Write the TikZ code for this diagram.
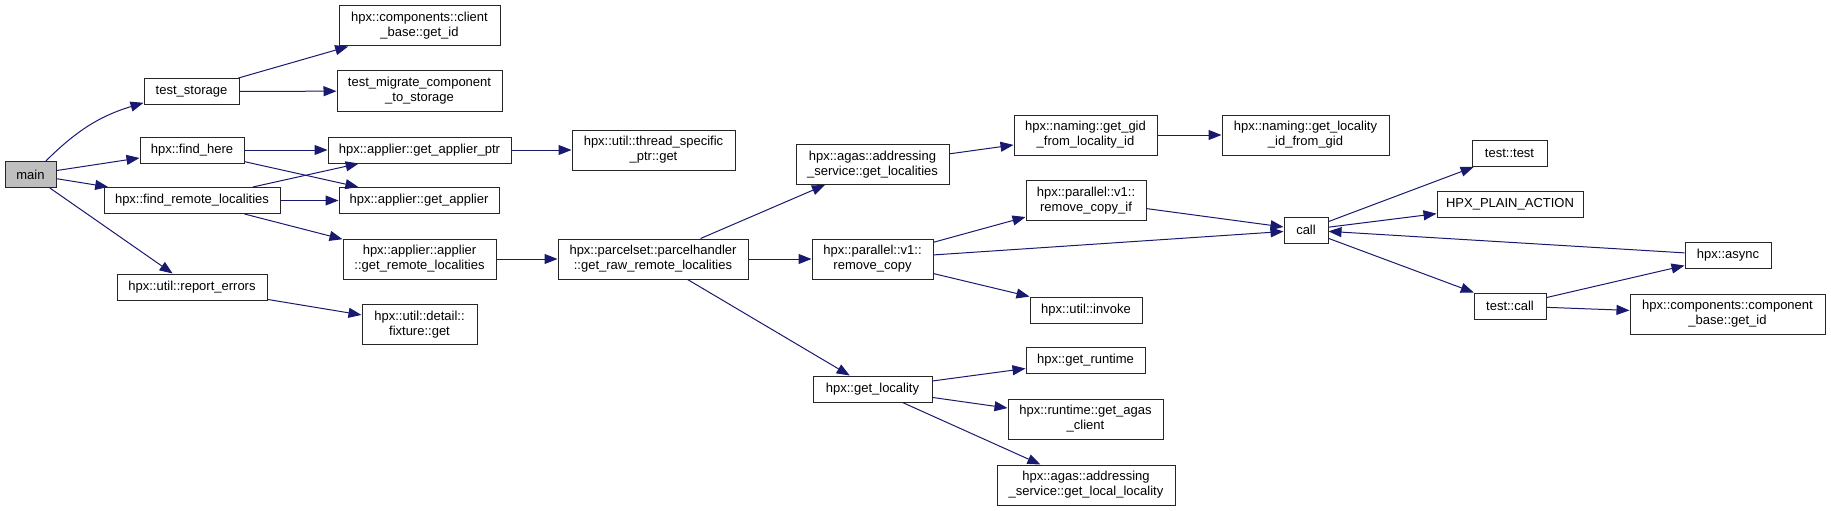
\documentclass[tikz,border=0pt]{standalone}
\usepackage{fontspec}
\setmainfont{Liberation Sans}
\usetikzlibrary{arrows.meta}
\definecolor{callblue}{HTML}{191970}
\definecolor{maingray}{HTML}{BFBFBF}

\begin{document}
\begin{tikzpicture}[x=1pt, y=1pt,
    fnbox/.style={draw=black!85, line width=1pt, inner sep=1pt, minimum height=26pt,
        font=\fontsize{13}{15}\selectfont},
    fnbox2/.style={fnbox, align=center, minimum height=40pt},
    callarrow/.style={draw=callblue, line width=1pt, -{Triangle[length=13pt,width=10pt]}}]
    \useasboundingbox (0,0) rectangle (1831,-511);

    % Caller and first level
    \node[fnbox, fill=maingray, minimum width=51pt] (main) at (30.5,-174.5) {main};
    \node[fnbox, minimum width=95pt] (teststorage) at (191.5,-91.5) {test\_storage};
    \node[fnbox, minimum width=104pt] (findhere) at (192,-150) {hpx::find\_here};
    \node[fnbox, minimum width=176pt] (findremote) at (192,-200.5) {hpx::find\_remote\_localities};
    \node[fnbox, minimum width=150pt] (reporterrors) at (192,-287) {hpx::util::report\_errors};

    % Second level
    \node[fnbox2, minimum width=161pt] (clientgetid) at (419.5,-26) {hpx::components::client\\\_base::get\_id};
    \node[fnbox2, minimum width=165pt] (testmigrate) at (419.5,-91) {test\_migrate\_component\\\_to\_storage};
    \node[fnbox, minimum width=183pt] (getapplierptr) at (419.5,-150) {hpx::applier::get\_applier\_ptr};
    \node[fnbox, minimum width=160pt] (getapplier) at (419,-200.5) {hpx::applier::get\_applier};
    \node[fnbox2, minimum width=153pt] (applierremote) at (419.5,-259) {hpx::applier::applier\\::get\_remote\_localities};
    \node[fnbox2, minimum width=115pt] (fixtureget) at (419.5,-324.5) {hpx::util::detail::\\fixture::get};

    % Third level
    \node[fnbox2, minimum width=163pt] (threadptrget) at (653.5,-150) {hpx::util::thread\_specific\\\_ptr::get};
    \node[fnbox2, minimum width=190pt] (parcelhandler) at (653,-259) {hpx::parcelset::parcelhandler\\::get\_raw\_remote\_localities};

    % Fourth level
    \node[fnbox2, minimum width=153pt] (agaslocalities) at (872.5,-164.5) {hpx::agas::addressing\\\_service::get\_localities};
    \node[fnbox2, minimum width=121pt] (removecopy) at (872.5,-259) {hpx::parallel::v1::\\remove\_copy};
    \node[fnbox, minimum width=119pt] (getlocality) at (872.5,-389) {hpx::get\_locality};

    % Fifth level
    \node[fnbox2, minimum width=143pt] (getgid) at (1085.5,-135) {hpx::naming::get\_gid\\\_from\_locality\_id};
    \node[fnbox2, minimum width=120pt] (removecopyif) at (1086,-200.5) {hpx::parallel::v1::\\remove\_copy\_if};
    \node[fnbox, minimum width=112pt] (invoke) at (1086,-310) {hpx::util::invoke};
    \node[fnbox, minimum width=119pt] (getruntime) at (1085.5,-360.5) {hpx::get\_runtime};
    \node[fnbox2, minimum width=155pt] (agasclient) at (1085.5,-419) {hpx::runtime::get\_agas\\\_client};
    \node[fnbox2, minimum width=178pt] (locallocality) at (1086,-485) {hpx::agas::addressing\\\_service::get\_local\_locality};

    % Right part
    \node[fnbox2, minimum width=167pt] (localityfromgid) at (1305.5,-135) {hpx::naming::get\_locality\\\_id\_from\_gid};
    \node[fnbox, minimum width=44pt] (callfn) at (1306,-230) {call};
    \node[fnbox, minimum width=75pt] (testtest) at (1509.5,-153.5) {test::test};
    \node[fnbox, minimum width=146pt] (plainaction) at (1510,-204.5) {HPX\_PLAIN\_ACTION};
    \node[fnbox, minimum width=72pt] (testcall) at (1510,-306) {test::call};
    \node[fnbox, minimum width=86pt] (hpxasync) at (1728,-255.5) {hpx::async};
    \node[fnbox2, minimum width=195pt] (componentgetid) at (1727.5,-314) {hpx::components::component\\\_base::get\_id};

    % Calls
    \draw[callarrow] (main) to[bend left=14] (teststorage);
    \draw[callarrow] (main) -- (findhere);
    \draw[callarrow] (main) -- (findremote);
    \draw[callarrow] (main) -- (reporterrors);
    \draw[callarrow] (teststorage) -- (clientgetid);
    \draw[callarrow] (teststorage) -- (testmigrate);
    \draw[callarrow] (findhere) -- (getapplierptr);
    \draw[callarrow] (findhere) -- (getapplier);
    \draw[callarrow] (findremote) -- (getapplierptr);
    \draw[callarrow] (findremote) -- (getapplier);
    \draw[callarrow] (findremote) -- (applierremote);
    \draw[callarrow] (reporterrors) -- (fixtureget);
    \draw[callarrow] (getapplierptr) -- (threadptrget);
    \draw[callarrow] (applierremote) -- (parcelhandler);
    \draw[callarrow] (parcelhandler) -- (agaslocalities);
    \draw[callarrow] (parcelhandler) -- (removecopy);
    \draw[callarrow] (parcelhandler) -- (getlocality);
    \draw[callarrow] (agaslocalities) -- (getgid);
    \draw[callarrow] (getgid) -- (localityfromgid);
    \draw[callarrow] (removecopy) -- (removecopyif);
    \draw[callarrow] (removecopy) -- (callfn);
    \draw[callarrow] (removecopy) -- (invoke);
    \draw[callarrow] (removecopyif) -- (callfn);
    \draw[callarrow] (getlocality) -- (getruntime);
    \draw[callarrow] (getlocality) -- (agasclient);
    \draw[callarrow] (getlocality) -- (locallocality);
    \draw[callarrow] (callfn) -- (testtest);
    \draw[callarrow] (callfn) -- (plainaction);
    \draw[callarrow] (callfn) -- (testcall);
    \draw[callarrow] (testcall) -- (hpxasync);
    \draw[callarrow] (testcall) -- (componentgetid);
    \draw[callarrow] (hpxasync) -- (callfn);
\end{tikzpicture}
\end{document}
